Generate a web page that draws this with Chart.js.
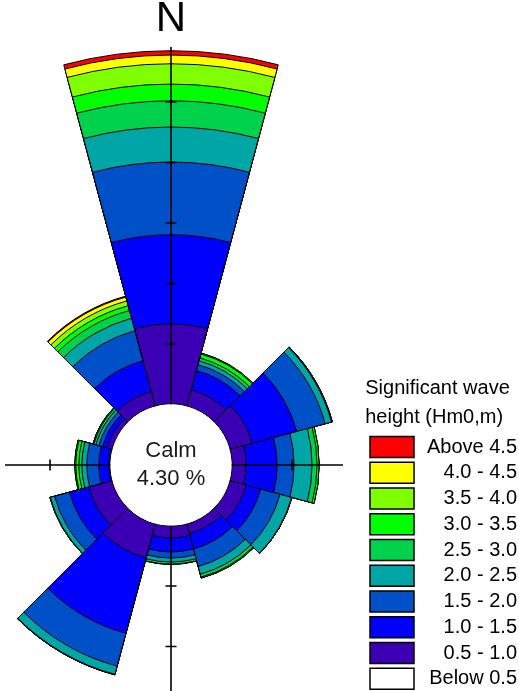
<!DOCTYPE html>
<html>
<head>
<meta charset="utf-8">
<script src="https://cdn.jsdelivr.net/npm/chart.js@4.4.1/dist/chart.umd.min.js"></script>
<style>
  html, body { margin: 0; padding: 0; background: #fff; }
  #wrap { width: 519px; height: 691px; }
</style>
</head>
<body>
<div id="wrap"><canvas id="rose"></canvas></div>
<script>
// wave directions, 30 degree sectors, clockwise from north
const directions = ['0°', '30°', '60°', '90°', '120°', '150°', '180°', '210°', '240°', '270°', '300°', '330°'];

// wave height classes, from small to large
const classes = ['Below 0.5', '0.5 - 1.0', '1.0 - 1.5', '1.5 - 2.0', '2.0 - 2.5',
                 '2.5 - 3.0', '3.0 - 3.5', '3.5 - 4.0', '4.0 - 4.5', 'Above 4.5'];
const classColors = ['#ffffff', '#3c00b4', '#0000ff', '#0050c8', '#00a5a5',
                     '#00d24b', '#00ff00', '#80ff00', '#ffff00', '#ff0000'];

// occurrence (%) per direction for each class
const below05 = [0.06, 0.04, 0.05, 0.05, 0.04, 0.04, 0.04, 0.06, 0.05, 0.04, 0.03, 0.05];
const h05to10 = [6.61, 1.40, 1.90, 1.16, 1.40, 0.83, 0.99, 2.89, 1.98, 0.10, 0.41, 1.24];
const h10to15 = [7.36, 1.65, 3.80, 2.56, 1.24, 1.32, 1.16, 6.45, 1.65, 0.83, 0.41, 2.64];
const h15to20 = [6.01, 0.50, 2.44, 1.40, 1.65, 1.49, 0.50, 2.81, 1.28, 0.99, 0.33, 2.56];
const h20to25 = [2.89, 0.33, 0.54, 1.49, 0.99, 0.66, 0.33, 0.70, 0.37, 0.41, 0.25, 1.07];
const h25to30 = [2.17, 0.25, 0.05, 0.41, 0.03, 0.25, 0.17, 0.04, 0.03, 0.25, 0.17, 0.66];
const h30to35 = [1.38, 0.33, 0.02, 0.17, 0.00, 0.08, 0.02, 0.00, 0.00, 0.25, 0.08, 0.41];
const h35to40 = [1.68, 0.08, 0.00, 0.00, 0.00, 0.00, 0.00, 0.00, 0.00, 0.08, 0.00, 0.41];
const h40to45 = [0.72, 0.00, 0.00, 0.00, 0.00, 0.00, 0.00, 0.00, 0.00, 0.00, 0.00, 0.33];
const above45 = [0.36, 0.00, 0.00, 0.00, 0.00, 0.00, 0.00, 0.00, 0.00, 0.00, 0.00, 0.08];
const calmPercent = 4.30;

// tick marks on the cross axes (% beyond the calm circle)
const ringTicks = [5, 10, 15, 20, 25];

// layout of the rose
const CX = 171, CY = 465, PX_PER_UNIT = 12.1;
const R_MIN = -5, R_MAX = 30;
const AXIS = { left: 166, right: 172, top: 418, bottom: 230 };
const TICK = 5.5;
const FONT = '"Liberation Sans", Arial, Helvetica, sans-serif';

Chart.defaults.font.family = FONT;

// stack the classes: each ring is drawn from the centre out to its cumulative value
const series = [below05, h05to10, h10to15, h15to20, h20to25, h25to30, h30to35, h35to40, h40to45, above45];
let running = directions.map(() => 0);
const datasets = series.map((vals, k) => {
  running = running.map((v, i) => v + vals[i]);
  return {
    label: classes[k],
    data: running.slice(),
    backgroundColor: classColors[k],
    borderColor: '#000',
    borderWidth: 1
  };
});

// cross axes, calm circle and labels
const roseDecor = {
  id: 'roseDecor',
  afterDatasetsDraw(chart) {
    const s = chart.scales.r;
    const ctx = chart.ctx;
    const cx = s.xCenter, cy = s.yCenter;
    ctx.save();
    ctx.strokeStyle = '#000';
    ctx.lineWidth = 1.6;
    ctx.beginPath();
    ctx.moveTo(cx - AXIS.left, cy);
    ctx.lineTo(cx + AXIS.right, cy);
    ctx.moveTo(cx, cy - AXIS.top);
    ctx.lineTo(cx, cy + AXIS.bottom);
    ringTicks.forEach(v => {
      const d = s.getDistanceFromCenterForValue(v);
      if (d < AXIS.right) { ctx.moveTo(cx + d, cy - TICK); ctx.lineTo(cx + d, cy + TICK); }
      if (d < AXIS.left) { ctx.moveTo(cx - d, cy - TICK); ctx.lineTo(cx - d, cy + TICK); }
      if (d < AXIS.top) { ctx.moveTo(cx - TICK, cy - d); ctx.lineTo(cx + TICK, cy - d); }
      if (d < AXIS.bottom) { ctx.moveTo(cx - TICK, cy + d); ctx.lineTo(cx + TICK, cy + d); }
    });
    ctx.stroke();

    // calm circle
    const rc = s.getDistanceFromCenterForValue(0);
    ctx.beginPath();
    ctx.arc(cx, cy, rc, 0, Math.PI * 2);
    ctx.fillStyle = '#fff';
    ctx.fill();

    ctx.fillStyle = '#1a1a1a';
    ctx.textAlign = 'center';
    ctx.textBaseline = 'middle';
    ctx.font = '22px ' + FONT;
    ctx.fillText('Calm', cx, cy - 14.5);
    ctx.fillText(calmPercent.toFixed(2) + ' %', cx, cy + 14);

    ctx.fillStyle = '#000';
    ctx.font = '42px ' + FONT;
    ctx.fillText('N', cx, cy - s.getDistanceFromCenterForValue(31.8));
    ctx.restore();
  }
};

new Chart(document.getElementById('rose'), {
  type: 'polarArea',
  data: { labels: directions, datasets: datasets },
  options: {
    responsive: true,
    maintainAspectRatio: false,
    animation: false,
    layout: { padding: { top: 0, left: 0, right: 2, bottom: -3 } },
    scales: {
      r: {
        min: R_MIN,
        max: R_MAX,
        startAngle: -15,
        ticks: { display: false },
        grid: { display: false },
        angleLines: { display: false },
        pointLabels: { display: false },
        afterFit(s) {
          s.xCenter = CX;
          s.yCenter = CY;
          s.drawingArea = (R_MAX - R_MIN) * PX_PER_UNIT;
        }
      }
    },
    plugins: {
      tooltip: { enabled: false },
      legend: {
        position: 'right',
        align: 'end',
        maxWidth: 151.75,
        title: {
          display: true,
          text: ['Significant wave', 'height (Hm0,m)'],
          color: '#000',
          position: 'start',
          font: { size: 20, lineHeight: 1.425 },
          padding: { top: 0, bottom: 24.75 }
        },
        labels: {
          boxWidth: 44,
          boxHeight: 21,
          padding: 4.75,
          color: '#000',
          textAlign: 'right',
          font: { size: 20 },
          generateLabels: (chart) => chart.data.datasets.map((ds, i) => ({
            text: ds.label,
            fillStyle: ds.backgroundColor,
            strokeStyle: '#000',
            lineWidth: 1.5,
            fontColor: '#000',
            hidden: false,
            datasetIndex: i
          })).reverse()
        }
      }
    }
  },
  plugins: [roseDecor]
});
</script>
</body>
</html>
